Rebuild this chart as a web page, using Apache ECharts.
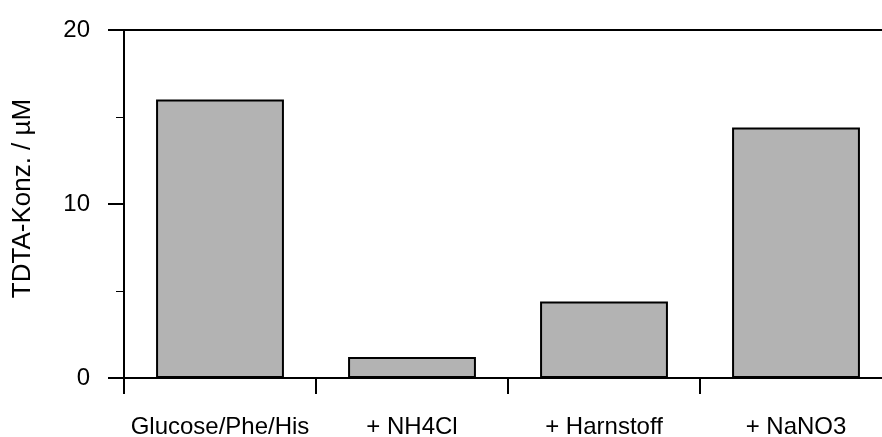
<!DOCTYPE html>
<html>
<head>
<meta charset="utf-8">
<script src="https://cdn.jsdelivr.net/npm/echarts@6/dist/echarts.min.js"></script>
<style>
  html, body { margin: 0; padding: 0; background: #fff; }
  #chart { width: 882px; height: 437px; }
</style>
</head>
<body>
<div id="chart"></div>
<script>
// Categories and measured TDTA concentrations (µM)
const categories = ['Glucose/Phe/His', '+ NH4Cl', '+ Harnstoff', '+ NaNO3'];
const tdtaValues = [16.0, 1.2, 4.4, 14.4];
const yTicks = { min: 0, max: 20, interval: 10 };
const yAxisTitle = 'TDTA-Konz. / µM';

const FONT = 'Liberation Sans, Arial, Helvetica, sans-serif';
const BLACK = '#000';

const chart = echarts.init(document.getElementById('chart'), null, { renderer: 'canvas' });

chart.setOption({
  animation: false,
  backgroundColor: '#fff',
  // the plot area runs a little past the right edge of the canvas
  grid: { left: 124, top: 30, width: 768, height: 348, containLabel: false, outerBoundsMode: 'none' },
  xAxis: [
    {
      type: 'category',
      data: categories,
      position: 'bottom',
      boundaryGap: true,
      axisLine: { show: true, lineStyle: { color: BLACK, width: 2 } },
      axisTick: { show: true, inside: false, length: 16, interval: 0, lineStyle: { color: BLACK, width: 2 } },
      axisLabel: { color: BLACK, fontFamily: FONT, fontSize: 24, margin: 37, interval: 0, hideOverlap: false },
      splitLine: { show: false }
    },
    {
      // upper frame line
      type: 'category',
      data: categories,
      position: 'top',
      axisLine: { show: true, lineStyle: { color: BLACK, width: 2 } },
      axisTick: { show: false },
      axisLabel: { show: false },
      splitLine: { show: false }
    }
  ],
  yAxis: {
    type: 'value',
    min: yTicks.min,
    max: yTicks.max,
    interval: yTicks.interval,
    name: yAxisTitle,
    nameLocation: 'middle',
    nameGap: 88,
    nameTextStyle: { color: BLACK, fontFamily: FONT, fontSize: 26, padding: [0, 0, 0, 11] },
    axisLine: { show: true, lineStyle: { color: BLACK, width: 2 } },
    axisTick: { show: true, inside: false, length: 16, lineStyle: { color: BLACK, width: 2 } },
    minorTick: { show: true, splitNumber: 2, length: 8, lineStyle: { color: BLACK, width: 1 } },
    axisLabel: { color: BLACK, fontFamily: FONT, fontSize: 24, margin: 34 },
    splitLine: { show: false }
  },
  series: [
    {
      type: 'bar',
      xAxisIndex: 0,
      data: tdtaValues,
      barWidth: '66.6%',
      itemStyle: { color: '#b3b3b3', borderColor: BLACK, borderWidth: 2 },
      emphasis: { disabled: true }
    }
  ]
});
</script>
</body>
</html>
